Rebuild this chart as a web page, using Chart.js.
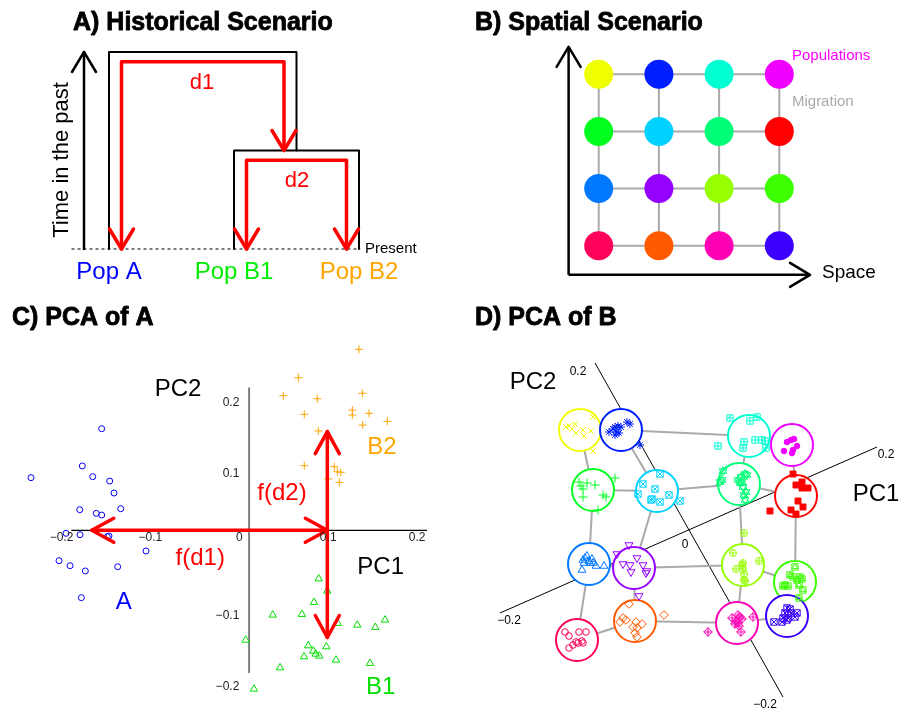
<!DOCTYPE html>
<html>
<head>
<meta charset="utf-8">
<script src="https://cdn.jsdelivr.net/npm/chart.js@4.4.1/dist/chart.umd.min.js"></script>
<style>
    html, body { margin: 0; padding: 0; background: #fff; }
    #wrap { position: relative; width: 899px; height: 719px; overflow: hidden; }
    #wrap canvas { position: absolute; }
    #panelA { left: 0; top: 0; }
    #panelB { left: 450px; top: 0; }
    #panelC { left: 0; top: 300px; }
    #panelD { left: 450px; top: 300px; }
</style>
</head>
<body>
<div id="wrap">
    <canvas id="panelA" width="450" height="300"></canvas>
    <canvas id="panelB" width="449" height="300"></canvas>
    <canvas id="panelC" width="450" height="419"></canvas>
    <canvas id="panelD" width="449" height="419"></canvas>
</div>
<script>
// ---------- A) historical scenario: x = population slot, y = time before present
const treeOuter = [[1, 0], [1, 1], [2.5, 1], [2.5, 0.5]];
const treeInner = [[2, 0], [2, 0.5], [3, 0.5], [3, 0]];
const pathD1 = [[1.1, 0], [1.1, 0.95], [2.4, 0.95], [2.4, 0.5]];
const pathD2 = [[2.1, 0], [2.1, 0.45], [2.9, 0.45], [2.9, 0]];
const timeAxis = [[0.8, 0], [0.8, 1]];
const presentLine = [[0.7, 0], [3.01, 0]];
const histPops = ["Pop A", "Pop B1", "Pop B2"];
const histSlots = [1, 2, 3];
const histColors = ["#0000ff", "#00ee00", "#ffa500"];

// ---------- B) spatial scenario: 16 demes on a 4x4 grid
const popColors = [
    "#f0ff00", "#001eff", "#00ffd2", "#f000ff",
    "#00ff1e", "#00d2ff", "#00ff78", "#ff0000",
    "#0078ff", "#9600ff", "#96ff00", "#3cff00",
    "#ff005a", "#ff5a00", "#ff00b4", "#3c00ff"
];
const gridCol = [1, 2, 3, 4, 1, 2, 3, 4, 1, 2, 3, 4, 1, 2, 3, 4];
const gridRow = [4, 4, 4, 4, 3, 3, 3, 3, 2, 2, 2, 2, 1, 1, 1, 1];
const migrationEdges = [
    [0, 1], [1, 2], [2, 3], [4, 5], [5, 6], [6, 7], [8, 9], [9, 10], [10, 11], [12, 13], [13, 14], [14, 15],
    [0, 4], [4, 8], [8, 12], [1, 5], [5, 9], [9, 13], [2, 6], [6, 10], [10, 14], [3, 7], [7, 11], [11, 15]
];
const spaceAxisV = [[0.5, 0.49], [0.5, 4.48]];
const spaceAxisH = [[0.5, 0.49], [4.51, 0.49]];

// ---------- C) PCA of A
const pcaPopA = [
    [-0.1548, 0.1631], [-0.2343, 0.0941], [-0.1766, 0.1106], [-0.1649, 0.0955], [-0.1458, 0.0894],
    [-0.1409, 0.0725], [-0.1795, 0.0490], [-0.1609, 0.0439], [-0.1548, 0.0415], [-0.1334, 0.0504],
    [-0.1949, 0.0158], [-0.1792, 0.0138], [-0.1485, 0.0110], [-0.1466, 0.0120], [-0.1050, -0.0092],
    [-0.2028, -0.0228], [-0.1904, -0.0299], [-0.1732, -0.0373], [-0.1368, -0.0313], [-0.1777, -0.0749]
];
const pcaPopB2 = [
    [0.1346, 0.2749], [0.0664, 0.2349], [0.0495, 0.2096], [0.0877, 0.2054], [0.1384, 0.2130],
    [0.0731, 0.1834], [0.1271, 0.1894], [0.1271, 0.1824], [0.1459, 0.1848], [0.1665, 0.1735],
    [0.1388, 0.1683], [0.0889, 0.1599], [0.0731, 0.1110], [0.1069, 0.1096], [0.1102, 0.1025],
    [0.1141, 0.1017], [0.1001, 0.0923], [0.1125, 0.0876]
];
const pcaPopB1 = [
    [0.0893, -0.0482], [0.0990, -0.0655], [0.0840, -0.0814], [0.0376, -0.0993], [0.0705, -0.0983],
    [0.1107, -0.1110], [0.1327, -0.1134], [0.1530, -0.1166], [0.1639, -0.1063], [0.0072, -0.1345],
    [0.0776, -0.1425], [0.0979, -0.1439], [0.0832, -0.1500], [0.0859, -0.1542], [0.0900, -0.1570],
    [0.0728, -0.1580], [0.1088, -0.1627], [0.0458, -0.1735], [0.1470, -0.1673], [0.0165, -0.2035]
];
const pcaAxisH = [[-0.189, 0.02], [0.211, 0.02]];
const pcaAxisV = [[0.011, 0.22], [0.011, -0.18]];
const arrowFd1 = [[-0.166, 0.02], [0.099, 0.02]];
const arrowFd2 = [[0.099, 0.159], [0.099, -0.131]];
const pcaTicks = [-0.2, -0.1, 0, 0.1, 0.2];
const pcaTickLabels = ["\u22120.2", "\u22120.1", "0", "0.1", "0.2"];

// ---------- D) PCA of B (projected plane)
const dCenters = [
    [-0.109, 0.100], [-0.068, 0.100], [0.060, 0.094], [0.103, 0.085],
    [-0.096, 0.040], [-0.032, 0.039], [0.050, 0.046], [0.107, 0.034],
    [-0.100, -0.034], [-0.055, -0.038], [0.054, -0.035], [0.106, -0.052],
    [-0.112, -0.110], [-0.054, -0.091], [0.048, -0.093], [0.098, -0.086]
];
const dPoints = [
    [[-0.096, 0.113], [-0.123, 0.103], [-0.120, 0.104], [-0.114, 0.106], [-0.117, 0.101], [-0.113, 0.097], [-0.106, 0.100], [-0.098, 0.099], [-0.105, 0.094], [-0.096, 0.079]],
    [[-0.080, 0.098], [-0.076, 0.101], [-0.074, 0.103], [-0.071, 0.104], [-0.068, 0.103], [-0.072, 0.098], [-0.070, 0.097], [-0.074, 0.095], [-0.062, 0.108], [-0.059, 0.106], [-0.049, 0.085]],
    [[0.041, 0.112], [0.061, 0.109], [0.068, 0.113], [0.029, 0.084], [0.055, 0.088], [0.054, 0.082], [0.066, 0.090], [0.073, 0.090], [0.076, 0.089], [0.077, 0.082]],
    [[0.098, 0.088], [0.102, 0.090], [0.105, 0.091], [0.108, 0.084], [0.104, 0.080], [0.095, 0.079], [0.103, 0.077]],
    [[-0.110, 0.048], [-0.108, 0.044], [-0.102, 0.047], [-0.094, 0.045], [-0.106, 0.041], [-0.106, 0.033], [-0.086, 0.035], [-0.083, 0.033], [-0.074, 0.052], [-0.091, 0.020]],
    [[-0.046, 0.046], [-0.029, 0.056], [-0.034, 0.041], [-0.051, 0.036], [-0.037, 0.031], [-0.038, 0.030], [-0.029, 0.028], [-0.020, 0.035], [-0.009, 0.029]],
    [[0.034, 0.059], [0.033, 0.050], [0.031, 0.048], [0.049, 0.050], [0.052, 0.053], [0.056, 0.056], [0.051, 0.047], [0.054, 0.043], [0.057, 0.038], [0.055, 0.035], [0.056, 0.030], [0.053, 0.048], [0.058, 0.055]],
    [[0.104, 0.056], [0.107, 0.045], [0.113, 0.048], [0.113, 0.042], [0.119, 0.042], [0.109, 0.029], [0.114, 0.023], [0.102, 0.020], [0.107, 0.016], [0.081, 0.019]],
    [[-0.107, -0.040], [-0.105, -0.033], [-0.104, -0.028], [-0.102, -0.026], [-0.100, -0.031], [-0.097, -0.029], [-0.096, -0.033], [-0.093, -0.036], [-0.085, -0.036], [-0.106, -0.030], [-0.099, -0.033]],
    [[-0.060, -0.015], [-0.072, -0.024], [-0.066, -0.034], [-0.059, -0.035], [-0.052, -0.028], [-0.046, -0.035], [-0.042, -0.041], [-0.058, -0.042], [-0.043, -0.043], [-0.050, -0.066]],
    [[0.055, -0.003], [0.044, -0.023], [0.054, -0.033], [0.053, -0.035], [0.070, -0.031], [0.047, -0.039], [0.054, -0.039], [0.055, -0.044], [0.056, -0.051], [0.055, -0.050]],
    [[0.106, -0.037], [0.101, -0.045], [0.104, -0.047], [0.111, -0.047], [0.108, -0.050], [0.113, -0.049], [0.096, -0.055], [0.094, -0.056], [0.099, -0.056], [0.110, -0.055], [0.114, -0.060], [0.110, -0.068]],
    [[-0.124, -0.102], [-0.120, -0.106], [-0.110, -0.102], [-0.103, -0.102], [-0.107, -0.111], [-0.113, -0.112], [-0.106, -0.113], [-0.116, -0.115], [-0.120, -0.118], [-0.111, -0.113]],
    [[-0.060, -0.074], [-0.066, -0.088], [-0.069, -0.092], [-0.063, -0.090], [-0.053, -0.092], [-0.047, -0.094], [-0.056, -0.097], [-0.052, -0.098], [-0.054, -0.103], [-0.052, -0.107], [-0.025, -0.085]],
    [[0.043, -0.088], [0.049, -0.085], [0.051, -0.087], [0.047, -0.091], [0.053, -0.089], [0.049, -0.093], [0.046, -0.094], [0.064, -0.087], [0.052, -0.102], [0.019, -0.102], [0.050, -0.096]],
    [[0.098, -0.078], [0.101, -0.079], [0.096, -0.083], [0.102, -0.083], [0.108, -0.083], [0.106, -0.087], [0.094, -0.088], [0.099, -0.088], [0.093, -0.092], [0.085, -0.092], [0.098, -0.090]]
];
const dSymbols = ["x", "asterisk", "boxplus", "dot", "plus", "boxx", "david", "square",
    "tri", "trid", "circplus", "boxtri", "circle", "diamond", "diamondplus", "boxx"];
const dAxisPC1 = [[-0.189, -0.083], [0.188, 0.083]];
const dAxisPC2 = [[-0.094, 0.167], [0.094, -0.167]];

// ---------- helpers
const FONT = "'Liberation Sans', Arial, sans-serif";
const toXY = arr => arr.map(([x, y]) => ({ x, y }));

function lineSet(data, color, width, extra) {
    return Object.assign({
        data: toXY(data),
        showLine: true,
        borderColor: color,
        borderWidth: width,
        borderCapStyle: "round",
        borderJoinStyle: "round",
        pointRadius: 0,
        tension: 0
    }, extra || {});
}

function pointSet(data, style, color, radius, extra) {
    return Object.assign({
        data: toXY(data),
        pointStyle: style,
        pointRadius: radius,
        pointBorderColor: color,
        pointBackgroundColor: "rgba(0,0,0,0)",
        pointBorderWidth: 1,
        showLine: false
    }, extra || {});
}

// open V heads drawn right after the dataset they belong to
const arrowHeads = {
    id: "arrowHeads",
    afterDatasetDraw(chart, args) {
        const ds = chart.data.datasets[args.index];
        if (!ds.arrowAt) return;
        const el = args.meta.data;
        const ctx = chart.ctx;
        ctx.save();
        ctx.strokeStyle = ds.borderColor;
        ctx.lineWidth = ds.borderWidth;
        ctx.lineCap = "round";
        ctx.lineJoin = "round";
        ds.arrowAt.forEach(end => {
            const tip = end === "start" ? el[0] : el[el.length - 1];
            const from = end === "start" ? el[1] : el[el.length - 2];
            const a = Math.atan2(tip.y - from.y, tip.x - from.x);
            const L = ds.arrowLen, H = ds.arrowHalf;
            const bx = tip.x - L * Math.cos(a), by = tip.y - L * Math.sin(a);
            ctx.beginPath();
            ctx.moveTo(bx + H * Math.sin(a), by - H * Math.cos(a));
            ctx.lineTo(tip.x, tip.y);
            ctx.lineTo(bx - H * Math.sin(a), by + H * Math.cos(a));
            ctx.stroke();
        });
        ctx.restore();
    }
};

// free text placed through the chart's scales (or in pixels for titles)
function textPlugin(items) {
    return {
        id: "panelText",
        afterDraw(chart) {
            const ctx = chart.ctx;
            const xs = chart.scales.x, ys = chart.scales.y;
            items.forEach(it => {
                const px = it.px !== undefined ? it.px : xs.getPixelForValue(it.x);
                const py = it.py !== undefined ? it.py : ys.getPixelForValue(it.y);
                ctx.save();
                ctx.font = it.font;
                ctx.fillStyle = it.color || "#000";
                ctx.textAlign = it.align || "center";
                ctx.textBaseline = it.baseline || "middle";
                ctx.translate(px, py);
                if (it.rotate) ctx.rotate(it.rotate);
                if (it.heavy) {
                    ctx.strokeStyle = it.color || "#000";
                    ctx.lineWidth = it.heavy;
                    ctx.lineJoin = "round";
                    ctx.strokeText(it.text, 0, 0);
                }
                ctx.fillText(it.text, 0, 0);
                ctx.restore();
            });
        }
    };
}

function makePanel(id, xRange, yRange, datasets, items) {
    return new Chart(document.getElementById(id), {
        type: "scatter",
        data: { datasets },
        options: {
            responsive: false,
            animation: false,
            events: [],
            layout: { padding: 0, autoPadding: false },
            scales: {
                x: { type: "linear", display: false, min: xRange[0], max: xRange[1] },
                y: { type: "linear", display: false, min: yRange[0], max: yRange[1] }
            },
            plugins: { legend: { display: false }, tooltip: { enabled: false } }
        },
        plugins: [arrowHeads, textPlugin(items)]
    });
}

const titleFont = `bold 25px ${FONT}`;

// ---------- panel A
const redArrow = { arrowAt: ["start", "end"], arrowLen: 20, arrowHalf: 12, order: 1 };
makePanel("panelA", [0.128, 3.728], [-0.259, 1.264], [
    lineSet(presentLine, "#000", 1, { borderDash: [3, 3], borderCapStyle: "butt", order: 4 }),
    lineSet(treeOuter, "#000", 2, { order: 3 }),
    lineSet(treeInner, "#000", 2, { order: 3 }),
    lineSet(timeAxis, "#000", 2.5, { arrowAt: ["end"], arrowLen: 20, arrowHalf: 12, order: 2 }),
    lineSet(pathD1, "#ff0000", 3.5, redArrow),
    lineSet(pathD2, "#ff0000", 3.5, redArrow)
], [
    { text: "A) Historical Scenario", px: 73, py: 30, align: "left", baseline: "alphabetic", font: titleFont, heavy: 0.8 },
    { text: "d1", x: 1.744, y: 0.843, color: "#ff0000", font: `22px ${FONT}` },
    { text: "d2", x: 2.504, y: 0.345, color: "#ff0000", font: `22px ${FONT}` },
    { text: "Time in the past", x: 0.624, y: 0.452, rotate: -Math.PI / 2, font: `22px ${FONT}` },
    { text: "Present", x: 3.048, y: 0.0, align: "left", font: `15px ${FONT}` },
    ...histPops.map((p, i) => ({ text: p, x: histSlots[i], y: -0.117, color: histColors[i], font: `24px ${FONT}` }))
]);

// ---------- panel B
const gridPos = popColors.map((_, i) => [gridCol[i], gridRow[i]]);
makePanel("panelB", [-1.470, 5.988], [0.0495, 5.30], [
    ...migrationEdges.map(([a, b]) => lineSet([gridPos[a], gridPos[b]], "#aaaaaa", 2, { borderCapStyle: "butt", order: 3 })),
    lineSet(spaceAxisV, "#000", 2.5, { arrowAt: ["end"], arrowLen: 20, arrowHalf: 12, borderCapStyle: "butt", order: 2 }),
    lineSet(spaceAxisH, "#000", 2.5, { arrowAt: ["end"], arrowLen: 20, arrowHalf: 12, borderCapStyle: "butt", order: 2 }),
    {
        data: toXY(gridPos),
        pointRadius: 14.5,
        pointStyle: "circle",
        pointBackgroundColor: popColors,
        pointBorderWidth: 0,
        order: 1
    }
], [
    { text: "B) Spatial Scenario", px: 25, py: 30, align: "left", baseline: "alphabetic", font: titleFont, heavy: 0.8 },
    { text: "Populations", x: 4.21, y: 4.32, align: "left", color: "#ff00ff", font: `15px ${FONT}` },
    { text: "Migration", x: 4.21, y: 3.515, align: "left", color: "#aaaaaa", font: `15px ${FONT}` },
    { text: "Space", x: 4.71, y: 0.52, align: "left", font: `19px ${FONT}` }
]);

// ---------- panel C
const tickFont = `12px ${FONT}`;
makePanel("panelC", [-0.2692, 0.2370], [-0.2458, 0.3444], [
    lineSet(pcaAxisH, "#000", 1.3, { borderCapStyle: "butt", order: 4 }),
    lineSet(pcaAxisV, "#808080", 2, { borderCapStyle: "butt", order: 4 }),
    pointSet(pcaPopA, "circle", "#0000ff", 3, { order: 3 }),
    pointSet(pcaPopB2, "cross", "#ffa500", 4, { order: 3 }),
    pointSet(pcaPopB1, "triangle", "#00e000", 4.3, { order: 3 }),
    lineSet(arrowFd1, "#ff0000", 3.5, { arrowAt: ["start", "end"], arrowLen: 22, arrowHalf: 12, order: 1 }),
    lineSet(arrowFd2, "#ff0000", 3.5, { arrowAt: ["start", "end"], arrowLen: 22, arrowHalf: 12, order: 1 })
], [
    { text: "C) PCA of A", px: 12, py: 25, align: "left", baseline: "alphabetic", font: titleFont, heavy: 0.8 },
    ...pcaTicks.map((v, i) => ({ text: pcaTickLabels[i], x: v, y: 0.009, color: "#222", font: tickFont })),
    ...pcaTicks.filter(v => v !== 0).map(v => ({ text: pcaTickLabels[pcaTicks.indexOf(v)], x: 0, y: v, align: "right", color: "#222", font: tickFont })),
    { text: "PC2", x: -0.069, y: 0.219, font: `24px ${FONT}` },
    { text: "PC1", x: 0.159, y: -0.032, font: `24px ${FONT}` },
    { text: "f(d2)", x: 0.048, y: 0.0725, color: "#ff0000", font: `24px ${FONT}` },
    { text: "f(d1)", x: -0.044, y: -0.019, color: "#ff0000", font: `24px ${FONT}` },
    { text: "A", x: -0.130, y: -0.081, color: "#0000ff", font: `24px ${FONT}` },
    { text: "B2", x: 0.1605, y: 0.137, color: "#ffa500", font: `24px ${FONT}` },
    { text: "B1", x: 0.159, y: -0.2007, color: "#00e000", font: `24px ${FONT}` }
]);

// ---------- panel D
// R-like plotting symbols built from Chart.js point styles, layered
const symbolLayers = {
    x: [{ s: "crossRot", r: 4 }],
    asterisk: [{ s: "star", r: 4 }],
    boxplus: [{ s: "rect", r: 4.5 }, { s: "cross", r: 3.2 }],
    dot: [{ s: "circle", r: 2.8, fill: true }],
    plus: [{ s: "cross", r: 4.5 }],
    boxx: [{ s: "rect", r: 4.5 }, { s: "crossRot", r: 4.5 }],
    david: [{ s: "triangle", r: 4.5 }, { s: "triangle", r: 4.5, rot: 180 }],
    square: [{ s: "rect", r: 4.2, fill: true }],
    tri: [{ s: "triangle", r: 4.5 }],
    trid: [{ s: "triangle", r: 4.5, rot: 180 }],
    circplus: [{ s: "circle", r: 3.5 }, { s: "cross", r: 3.5 }],
    boxtri: [{ s: "rect", r: 4.5 }, { s: "triangle", r: 3.2 }],
    circle: [{ s: "circle", r: 3.3 }],
    diamond: [{ s: "rectRot", r: 4.3 }],
    diamondplus: [{ s: "rectRot", r: 4.3 }, { s: "cross", r: 4.3 }]
};

const dPointSets = [];
dPoints.forEach((pts, i) => {
    symbolLayers[dSymbols[i]].forEach(layer => {
        dPointSets.push(pointSet(pts, layer.s, popColors[i], layer.r, {
            rotation: layer.rot || 0,
            pointBackgroundColor: layer.fill ? popColors[i] : "rgba(0,0,0,0)",
            order: 1
        }));
    });
});

makePanel("panelD", [-0.239, 0.210], [-0.189, 0.230], [
    lineSet(dAxisPC1, "#000", 1, { borderCapStyle: "butt", order: 5 }),
    lineSet(dAxisPC2, "#000", 1, { borderCapStyle: "butt", order: 5 }),
    ...migrationEdges.map(([a, b]) => lineSet([dCenters[a], dCenters[b]], "#aaaaaa", 2, { borderCapStyle: "butt", order: 4 })),
    {
        data: toXY(dCenters),
        pointRadius: 21,
        pointStyle: "circle",
        pointBackgroundColor: "#ffffff",
        pointBorderColor: popColors,
        pointBorderWidth: 2,
        order: 3
    },
    ...dPointSets
], [
    { text: "D) PCA of B", px: 25, py: 25, align: "left", baseline: "alphabetic", font: titleFont, heavy: 0.8 },
    { text: "PC2", x: -0.156, y: 0.148, font: `24px ${FONT}` },
    { text: "PC1", x: 0.187, y: 0.036, font: `24px ${FONT}` },
    { text: "0.2", x: 0.197, y: 0.075, font: tickFont },
    { text: "\u22120.2", x: -0.180, y: -0.091, font: tickFont },
    { text: "0.2", x: -0.111, y: 0.158, font: tickFont },
    { text: "\u22120.2", x: 0.076, y: -0.175, font: tickFont },
    { text: "0", x: -0.004, y: -0.015, font: tickFont }
]);
</script>
</body>
</html>
